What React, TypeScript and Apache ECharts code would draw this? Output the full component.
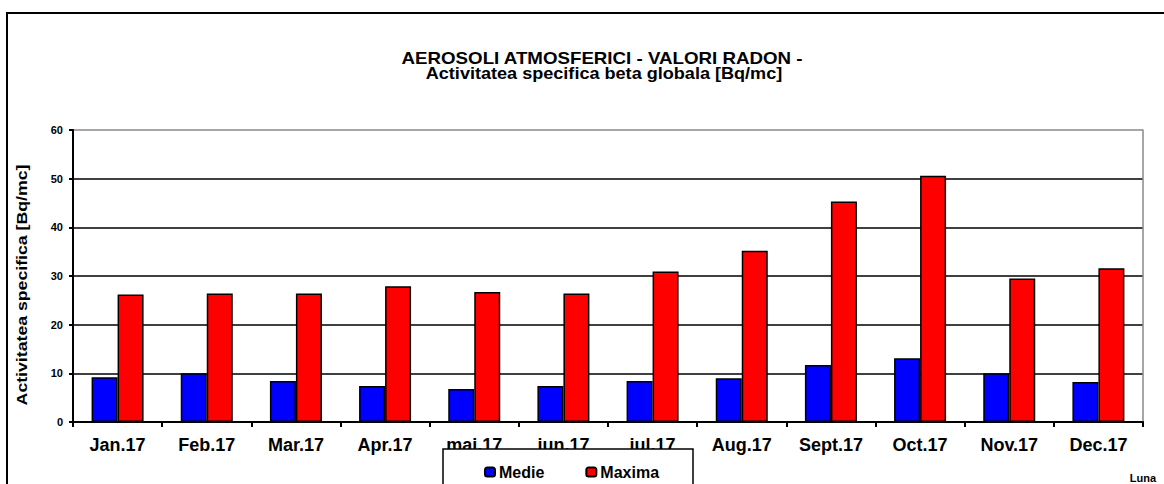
import React, { useEffect, useRef } from "react";
import * as echarts from "echarts";

const categories = ["Jan.17", "Feb.17", "Mar.17", "Apr.17", "mai.17", "iun.17", "jul.17", "Aug.17", "Sept.17", "Oct.17", "Nov.17", "Dec.17"];
const medie = [9.2, 10.0, 8.4, 7.4, 6.8, 7.4, 8.4, 9.0, 11.7, 13.1, 10.0, 8.2];
const maxima = [26.2, 26.4, 26.4, 27.9, 26.7, 26.4, 30.9, 35.2, 45.3, 50.6, 29.5, 31.6];
const yTicks = { min: 0, max: 60, interval: 10 };
const titleLines = ["AEROSOLI ATMOSFERICI - VALORI RADON -", "Activitatea specifica beta globala [Bq/mc]"];
const yTitle = "Activitatea specifica [Bq/mc]";

const FONT = "'Liberation Sans', Arial, sans-serif";

export default function App() {
  const ref = useRef<HTMLDivElement>(null);
  useEffect(() => {
    document.body.style.margin = "0";
    const chart = echarts.init(ref.current!, null, { renderer: "svg" });
    const boldText = (text: string, x: number, y: number, size: number, extra: any = {}) => ({
      type: "text",
      x,
      y,
      ...extra,
      style: { text, fontFamily: FONT, fontSize: size, fontWeight: "bold", fill: "#000", align: "center", verticalAlign: "middle" },
    });
    chart.setOption({
      animation: false,
      backgroundColor: "#fff",
      textStyle: { fontFamily: FONT },
      graphic: [
        { type: "rect", shape: { x: 7, y: 13, width: 1300, height: 700 }, style: { fill: "none", stroke: "#000", lineWidth: 2 } },
        { type: "rect", shape: { x: 443, y: 449, width: 250, height: 60 }, style: { fill: "#fff", stroke: "#000", lineWidth: 1.5 }, z: 5 },
        boldText(titleLines[0], 602, 58, 16, { scaleX: 1.17 }),
        boldText(titleLines[1], 604, 74, 16, { scaleX: 1.13 }),
        boldText(yTitle, 22, 285, 15, { rotation: Math.PI / 2, scaleX: 1.18 }),
        { type: "text", x: 1156, y: 478, style: { text: "Luna", fontFamily: FONT, fontSize: 11, fontWeight: "bold", fill: "#000", align: "right", verticalAlign: "middle" } },
      ],
      legend: {
        left: 484,
        top: 464,
        padding: 0,
        z: 10,
        itemWidth: 10,
        itemHeight: 9,
        itemGap: 41,
        textStyle: { fontFamily: FONT, fontSize: 16, fontWeight: "bold", color: "#000", padding: [1, 0, 0, -1] },
        data: ["Medie", "Maxima"],
      },
      grid: { left: 73, right: 21, top: 130, bottom: 62, containLabel: false },
      xAxis: {
        type: "category",
        data: categories,
        boundaryGap: true,
        axisLine: { lineStyle: { color: "#000", width: 2 } },
        axisTick: { show: true, alignWithLabel: false, length: 5, lineStyle: { color: "#000", width: 2 } },
        axisLabel: { fontFamily: FONT, fontSize: 18, fontWeight: "bold", color: "#000", margin: 14, interval: 0 },
      },
      yAxis: [
        {
          type: "value",
          min: yTicks.min,
          max: yTicks.max,
          interval: yTicks.interval,
          axisLine: { show: true, lineStyle: { color: "#000", width: 2 } },
          axisTick: { show: true, length: 4, lineStyle: { color: "#000", width: 2 } },
          axisLabel: { fontFamily: FONT, fontSize: 11, fontWeight: "bold", color: "#000", margin: 10 },
          splitLine: { show: true, lineStyle: { color: ["#000", "#000", "#000", "#000", "#000", "#000", "#888"], width: 1.5 } },
        },
        {
          type: "value",
          min: yTicks.min,
          max: yTicks.max,
          interval: yTicks.interval,
          position: "right",
          axisLine: { show: true, lineStyle: { color: "#888", width: 1.5 } },
          axisTick: { show: false },
          axisLabel: { show: false },
          splitLine: { show: false },
        },
      ],
      series: [
        {
          name: "Medie",
          type: "bar",
          data: medie,
          barWidth: 26,
          barGap: "0%",
          itemStyle: { color: "#0000ff", borderColor: "#000", borderWidth: 1.5 },
        },
        {
          name: "Maxima",
          type: "bar",
          data: maxima,
          barWidth: 26,
          barGap: "0%",
          itemStyle: { color: "#ff0000", borderColor: "#000", borderWidth: 1.5 },
        },
      ],
    });
    return () => chart.dispose();
  }, []);
  return <div ref={ref} style={{ width: 1164, height: 484 }} />;
}
